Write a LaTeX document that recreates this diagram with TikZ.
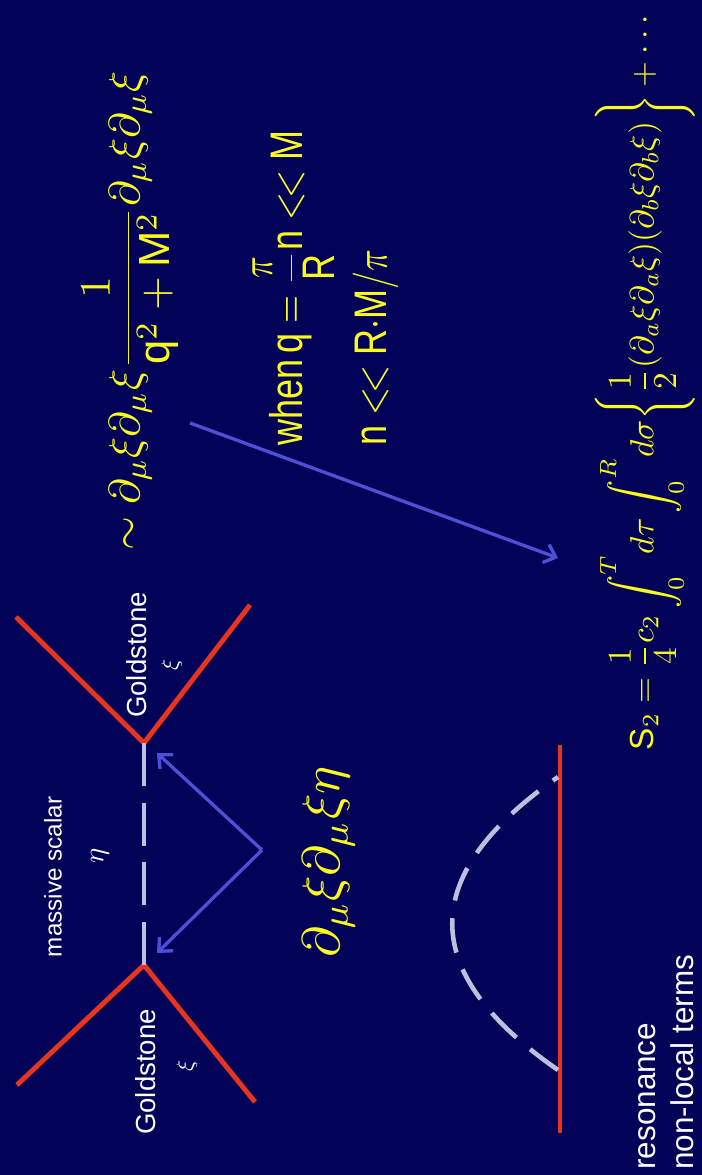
\documentclass[tikz,border=0pt]{standalone}
\usepackage{amsmath}
\usepackage{fontspec}
\setmainfont{Liberation Sans}
\usetikzlibrary{arrows.meta}
\definecolor{slidebg}{RGB}{2,2,88}
\definecolor{linered}{RGB}{232,52,28}
\definecolor{arrowblue}{RGB}{78,78,215}
\definecolor{dashgrey}{RGB}{190,190,222}
\definecolor{eqyellow}{RGB}{250,250,30}

\begin{document}
\begin{tikzpicture}[x=0.02cm,y=0.02cm,
  leg/.style={draw=linered,line width=2.8pt},
  scalar/.style={draw=dashgrey,line width=2.6pt,dash pattern=on 24.4pt off 9.6pt},
  arcdash/.style={draw=dashgrey,line width=2.6pt,dash pattern=on 19.8pt off 10.2pt},
  pointer/.style={draw=arrowblue,line width=1.9pt,-{Straight Barb[length=6pt,width=11pt]}},
  lbl/.style={text=white,inner sep=0pt},
  greek/.style={text=white,inner sep=0pt,scale=1.3},
  eqn/.style={text=eqyellow,inner sep=0pt,font=\fontsize{10}{12}\selectfont}]
\begin{scope}[rotate=90, transform shape]
\useasboundingbox (0,0) rectangle (1175,702);
\fill[slidebg] (0,0) rectangle (1175,702);
% Goldstone scattering through the massive scalar
\coordinate (vl) at (210,558);
\coordinate (vr) at (432,558);
\coordinate (vl-up) at (90,685);
\coordinate (vl-dn) at (73,447);
\coordinate (vr-up) at (558,686);
\coordinate (vr-dn) at (570,452);
\draw[leg] (vl-up) -- (vl) -- (vl-dn);
\draw[leg] (vr-up) -- (vr) -- (vr-dn);
\draw[scalar] (vl) -- (vr);
\node[lbl,font=\fontsize{15.7}{18}\selectfont] (gs-l) at (103,556) {Goldstone};
\node[greek] (xi-l) at (109,515) {$\xi$};
\node[lbl,font=\fontsize{15.7}{18}\selectfont] (gs-r) at (520,565) {Goldstone};
\node[greek] (xi-r) at (510,530) {$\xi$};
\node[lbl,font=\fontsize{13.8}{16}\selectfont] (massive) at (298,649) {massive scalar};
\node[greek,scale=1.25] (eta) at (319,602) {$\eta$};
\coordinate (src) at (325,440);
\coordinate (tip-l) at (222,545);
\coordinate (tip-r) at (422,545);
\draw[pointer] (src) -- (tip-l);
\draw[pointer] (src) -- (tip-r);
\node[eqn,scale=3.0] (coupling) at (313,373)
  {$\partial_\mu\xi\partial_\mu\xi\eta$};
% resonance diagram
\coordinate (wl-a) at (42,142);
\coordinate (wl-b) at (430,142);
\draw[leg] (wl-a) -- (wl-b);
\coordinate (res-a) at (105,144);
\coordinate (res-b) at (398,144);
\draw[arcdash] (res-a) .. controls (203,285) and (300,285) .. (res-b);
\node[lbl,anchor=base west,font=\fontsize{17.9}{21}\selectfont] (res) at (5,47) {resonance};
\node[lbl,anchor=base west,font=\fontsize{17.9}{21}\selectfont] (nonlocal) at (5,9) {non-local terms};
% propagator and its expansion
\node[eqn,scale=2.48] (prop) at (864,572)
  {$\sim\partial_\mu\xi\partial_\mu\xi\dfrac{1}{\mathrm{q}^2+\mathrm{M}^2}\partial_\mu\xi\partial_\mu\xi$};
\node[eqn,anchor=base west,xscale=2.05,yscale=2.6] (when) at (729,399)
  {when\,$\mathrm{q}=\dfrac{\pi}{\mathrm{R}}\mathrm{n}\mathrel{<\!<}\mathrm{M}$};
\node[eqn,anchor=base west,xscale=2.05,yscale=2.6] (bound) at (729,315)
  {$\mathrm{n}\mathrel{<\!<}\mathrm{R}{\cdot}\mathrm{M}/\pi$};
\coordinate (arr-start) at (752,512);
\coordinate (arr-end) at (617,144);
\draw[pointer] (arr-start) -- (arr-end);
\node[eqn,scale=1.9] (action) at (795,57)
  {$\displaystyle\mathrm{S}_2=\frac{1}{4}c_2\int_0^{T}\!d\tau\int_0^{R}\!d\sigma\Bigg\{\frac{1}{2}(\partial_a\xi\partial_a\xi)(\partial_b\xi\partial_b\xi)\Bigg\}+\cdots$};
\end{scope}
\end{tikzpicture}
\end{document}
